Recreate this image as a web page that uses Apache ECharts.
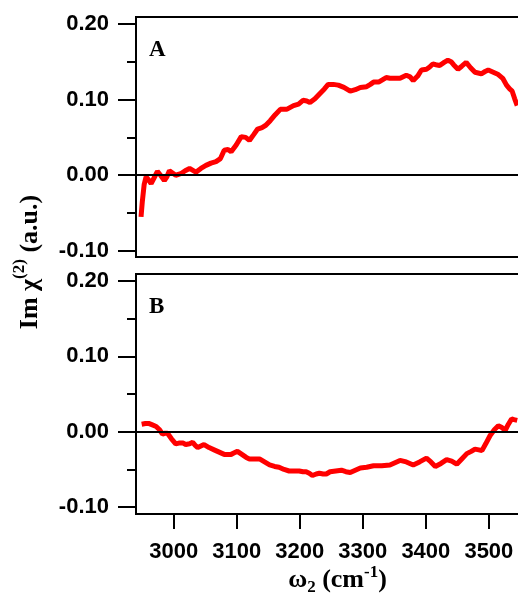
<!DOCTYPE html>
<html>
<head>
<meta charset="utf-8">
<script src="https://cdn.jsdelivr.net/npm/echarts@6/dist/echarts.min.js"></script>
<style>
html,body{margin:0;padding:0;background:#fff;}
#c{width:518px;height:595px;}
</style>
</head>
<body>
<div id="c"></div>
<script>
// Panel A data
var waveA = [2948, 2950, 2953, 2956, 2960, 2964, 2969, 2974, 2979, 2985, 2989, 2993, 2998, 3003, 3011, 3018, 3025, 3035, 3043, 3051, 3059, 3067, 3074, 3080, 3086, 3091, 3099, 3107, 3114, 3120, 3127, 3133, 3140, 3146, 3153, 3161, 3169, 3179, 3190, 3198, 3205, 3211, 3216, 3224, 3232, 3239, 3245, 3253, 3261, 3270, 3280, 3288, 3296, 3306, 3312, 3317, 3325, 3331, 3337, 3343, 3350, 3359, 3364, 3369, 3375, 3380, 3387, 3393, 3401, 3406, 3411, 3416, 3422, 3429, 3435, 3440, 3444, 3451, 3457, 3464, 3471, 3478, 3483, 3488, 3494, 3499, 3507, 3515, 3522, 3528, 3533, 3537, 3541, 3545];
var valA  = [-0.055, -0.035, -0.012, -0.002, -0.006, -0.011, -0.003, 0.005, 0.000, -0.007, -0.002, 0.006, 0.003, 0.000, 0.002, 0.006, 0.009, 0.004, 0.009, 0.013, 0.016, 0.018, 0.022, 0.033, 0.034, 0.031, 0.040, 0.051, 0.050, 0.046, 0.054, 0.061, 0.063, 0.066, 0.072, 0.080, 0.087, 0.087, 0.092, 0.094, 0.099, 0.098, 0.096, 0.101, 0.108, 0.114, 0.120, 0.120, 0.119, 0.116, 0.111, 0.113, 0.116, 0.117, 0.120, 0.123, 0.123, 0.126, 0.129, 0.128, 0.128, 0.128, 0.130, 0.132, 0.130, 0.125, 0.131, 0.139, 0.140, 0.143, 0.147, 0.146, 0.145, 0.149, 0.152, 0.150, 0.146, 0.140, 0.144, 0.149, 0.142, 0.136, 0.135, 0.134, 0.137, 0.139, 0.136, 0.133, 0.128, 0.119, 0.114, 0.111, 0.101, 0.092];
// Panel B data
var waveB = [2949, 2955, 2960, 2966, 2972, 2977, 2982, 2986, 2990, 2996, 3003, 3008, 3011, 3015, 3019, 3025, 3030, 3034, 3038, 3043, 3048, 3056, 3064, 3072, 3080, 3086, 3091, 3096, 3101, 3108, 3115, 3120, 3125, 3130, 3136, 3144, 3152, 3160, 3167, 3175, 3183, 3191, 3199, 3205, 3210, 3215, 3220, 3226, 3231, 3237, 3242, 3248, 3257, 3266, 3273, 3280, 3288, 3296, 3306, 3317, 3330, 3343, 3351, 3359, 3369, 3380, 3390, 3401, 3408, 3415, 3424, 3433, 3441, 3449, 3457, 3465, 3472, 3478, 3484, 3489, 3495, 3502, 3509, 3515, 3520, 3526, 3531, 3536, 3540, 3545];
var valB  = [0.010, 0.011, 0.011, 0.009, 0.007, 0.003, -0.003, -0.002, -0.002, -0.009, -0.016, -0.015, -0.014, -0.015, -0.017, -0.016, -0.014, -0.018, -0.021, -0.019, -0.017, -0.021, -0.024, -0.027, -0.030, -0.030, -0.030, -0.028, -0.026, -0.030, -0.034, -0.036, -0.036, -0.036, -0.036, -0.040, -0.044, -0.046, -0.047, -0.050, -0.052, -0.052, -0.052, -0.053, -0.053, -0.055, -0.058, -0.056, -0.055, -0.056, -0.056, -0.053, -0.052, -0.051, -0.053, -0.054, -0.051, -0.048, -0.047, -0.045, -0.045, -0.044, -0.041, -0.038, -0.040, -0.044, -0.040, -0.035, -0.040, -0.046, -0.042, -0.037, -0.039, -0.043, -0.036, -0.029, -0.026, -0.023, -0.024, -0.025, -0.016, -0.005, 0.003, 0.008, 0.006, 0.002, 0.010, 0.017, 0.016, 0.015];

var xMajor = [3000, 3100, 3200, 3300, 3400, 3500];
var yMajor = [-0.10, 0.00, 0.10, 0.20];
var yMinor = [-0.10, -0.05, 0.00, 0.05, 0.10, 0.15, 0.20];

function pairs(xs, ys) { return xs.map(function (x, i) { return [x, ys[i]]; }); }

var labelFont = { color: '#000', fontFamily: 'Liberation Sans', fontSize: 22, fontWeight: 'bold' };

function yAxes(gi, mn, mx) {
  return [
    { gridIndex: gi, type: 'value', min: mn, max: mx, position: 'left',
      axisLine: { show: false, onZero: false }, splitLine: { show: false },
      axisTick: { show: true, length: 18, customValues: yMajor, lineStyle: { color: '#000', width: 2 } },
      axisLabel: Object.assign({ show: true, margin: 27, customValues: yMajor,
        formatter: function (v) { return v.toFixed(2); } }, labelFont) },
    { gridIndex: gi, type: 'value', min: mn, max: mx, position: 'left',
      axisLine: { show: false, onZero: false }, splitLine: { show: false },
      axisTick: { show: true, length: 9, customValues: yMinor, lineStyle: { color: '#000', width: 2 } },
      axisLabel: { show: false } }
  ];
}

var chart = echarts.init(document.getElementById('c'), null, { renderer: 'canvas' });
var zeroLine = { silent: true, symbol: 'none', label: { show: false },
  lineStyle: { color: '#000', width: 2, type: 'solid' }, data: [{ yAxis: 0 }] };

chart.setOption({
  animation: false,
  backgroundColor: '#fff',
  grid: [
    { left: 136, right: -3, top: 17, height: 240, show: true, borderColor: '#000', borderWidth: 2, outerBoundsMode: 'none', containLabel: false },
    { left: 136, right: -3, top: 274, height: 240, show: true, borderColor: '#000', borderWidth: 2, outerBoundsMode: 'none', containLabel: false }
  ],
  title: [
    { text: 'A', left: 149, top: 39, textStyle: { fontFamily: 'Liberation Serif', fontWeight: 'bold', fontSize: 23, color: '#000' }, padding: 0 },
    { text: 'B', left: 149, top: 296, textStyle: { fontFamily: 'Liberation Serif', fontWeight: 'bold', fontSize: 23, color: '#000' }, padding: 0 }
  ],
  xAxis: [
    { gridIndex: 0, type: 'value', min: 2940, max: 3551,
      axisLine: { show: false, onZero: false }, axisTick: { show: false }, axisLabel: { show: false }, splitLine: { show: false } },
    { gridIndex: 1, type: 'value', min: 2940, max: 3551,
      axisLine: { show: false, onZero: false }, splitLine: { show: false },
      axisTick: { show: true, length: 15, customValues: xMajor, lineStyle: { color: '#000', width: 2 } },
      axisLabel: Object.assign({ show: true, margin: 27, customValues: xMajor,
        formatter: function (v) { return String(v); } }, labelFont),
      name: '{m|ω}{sub|2}{m| (cm}{sup|-1}{m|)}',
      nameLocation: 'middle', nameGap: 45,
      nameTextStyle: {
        padding: [0, 0, 0, 18],
        rich: {
          m: { fontFamily: 'Liberation Serif', fontWeight: 'bold', fontSize: 26, color: '#000', lineHeight: 28 },
          sub: { fontFamily: 'Liberation Serif', fontWeight: 'bold', fontSize: 17, color: '#000', verticalAlign: 'bottom', lineHeight: 22 },
          sup: { fontFamily: 'Liberation Serif', fontWeight: 'bold', fontSize: 17, color: '#000', verticalAlign: 'top', lineHeight: 32 }
        }
      } }
  ],
  yAxis: yAxes(0, -0.108, 0.209).concat(yAxes(1, -0.109, 0.209)),
  graphic: [
    { type: 'text', x: 30, y: 262, rotation: Math.PI / 2,
      style: {
        text: '{m|Im χ}{sup|(2)}{m| (a.u.)}',
        align: 'center', verticalAlign: 'middle',
        rich: {
          m: { fontFamily: 'Liberation Serif', fontWeight: 'bold', fontSize: 26, fill: '#000', lineHeight: 30 },
          sup: { fontFamily: 'Liberation Serif', fontWeight: 'bold', fontSize: 17, fill: '#000', verticalAlign: 'top', lineHeight: 38 }
        }
      } }
  ],
  series: [
    { type: 'line', xAxisIndex: 0, yAxisIndex: 0, data: pairs(waveA, valA), showSymbol: false,
      lineStyle: { color: '#ff0000', width: 5 }, markLine: zeroLine, z: 3 },
    { type: 'line', xAxisIndex: 1, yAxisIndex: 2, data: pairs(waveB, valB), showSymbol: false,
      lineStyle: { color: '#ff0000', width: 5 }, markLine: zeroLine, z: 3 }
  ]
});
</script>
</body>
</html>
